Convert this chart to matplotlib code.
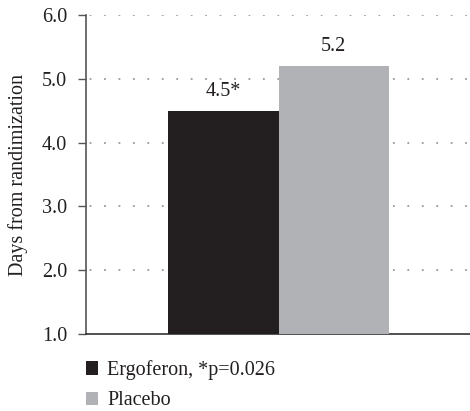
import matplotlib.pyplot as plt
from matplotlib.patches import Patch

groups = ["Ergoferon, *p=0.026", "Placebo"]
values = [4.5, 5.2]
labels = ["4.5*", "5.2"]
colors = ["#231f20", "#b1b2b5"]
yticks = [1.0, 2.0, 3.0, 4.0, 5.0, 6.0]

plt.rcParams["font.family"] = ["Liberation Serif", "DejaVu Serif"]
plt.rcParams["font.size"] = 14.5

fig = plt.figure(figsize=(4.70, 4.11), dpi=100)
ax = fig.add_axes([0.183, 0.187, 0.817, 0.7765])

x = list(range(len(values)))
bars = ax.bar(x, [v - 1.0 for v in values], bottom=1.0, width=1.0,
              color=colors, zorder=3)

for xi, v, lab in zip(x, values, labels):
    ax.annotate(lab, (xi, v), xytext=(0, 7), textcoords="offset points",
                ha="center", va="bottom", color="#231f20")

# dotted guide lines
for t in yticks[1:]:
    ax.axhline(t, color="#9a9a9a", lw=1.3, linestyle=(6, (1, 7.0)), zorder=1)

ax.set_xlim(-1.242, 2.233)
ax.set_ylim(1.0, 6.0)
ax.set_yticks(yticks)
ax.set_yticklabels([f"{t:.1f}" for t in yticks], color="#231f20")
ax.set_xticks([])
ax.tick_params(axis="y", length=5.5, width=1.0, color="#555555", pad=8)

for s in ["top", "right"]:
    ax.spines[s].set_visible(False)
ax.spines["left"].set_color("#555555")
ax.spines["bottom"].set_color("#333333")
ax.spines["left"].set_linewidth(1.2)
ax.spines["bottom"].set_linewidth(1.2)

ax.set_ylabel("Days from randimization", color="#231f20", labelpad=10)

handles = [Patch(facecolor=c, edgecolor="none") for c in colors]
fig.legend(handles, groups, loc="upper left", bbox_to_anchor=(0.152, 0.158),
           frameon=False, handlelength=0.62, handleheight=0.62,
           handletextpad=0.45, labelspacing=0.55,
           labelcolor="#231f20", borderpad=0.2)

fig.savefig("out.png", dpi=100)
